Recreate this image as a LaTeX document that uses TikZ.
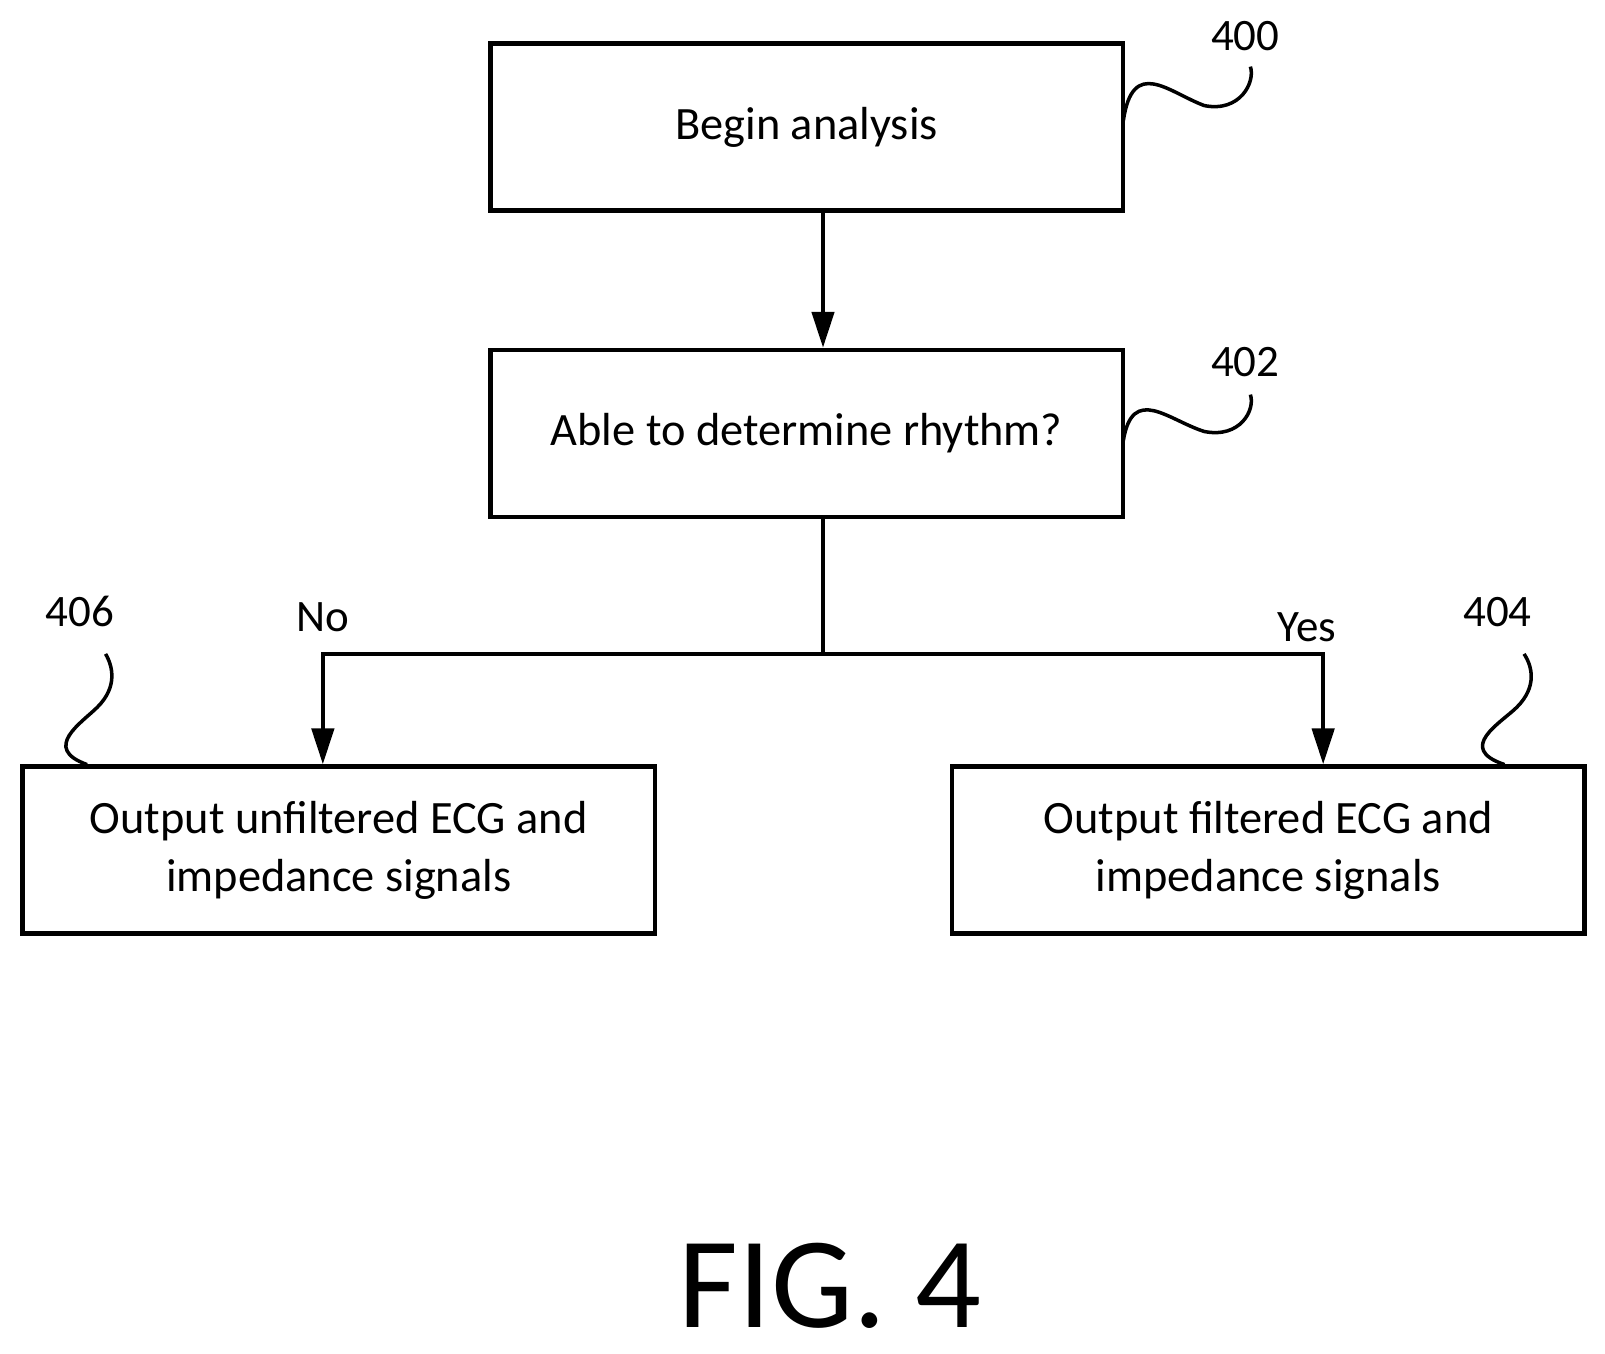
\documentclass[tikz,border=0pt]{standalone}
\usepackage{fontspec}
\setmainfont{Carlito}
\usetikzlibrary{arrows.meta,positioning}
\tikzset{
    stage/.style={draw, line width=1.3pt, minimum width=6.33cm, minimum height=1.67cm,
        align=center, font=\fontsize{13.2}{16.5}\selectfont},
    flow/.style={line width=1.3pt, -{Triangle[width=0.22cm,length=0.36cm]}},
    tag/.style={font=\fontsize{12.8}{15}\selectfont},
}
\begin{document}
\begin{tikzpicture}[x=0.01025cm, y=-0.01025cm]
    \useasboundingbox (0,0) rectangle (1566,1321);
    \node[stage] (begin) at (787,124) {Begin analysis};
    \node[stage] (able) at (787,423) {Able to determine rhythm?};
    \node[stage] (unfilt) at (330.5,829.5) {Output unfiltered ECG and\\impedance signals};
    \node[stage] (filt) at (1237.5,829.5) {Output filtered ECG and\\impedance signals};

    \coordinate (split) at (803,638);
    \draw[flow] (begin.south -| split) -- (able.north -| split);
    \draw[line width=1.3pt] (able.south -| split) -- (split);
    \draw[flow] (split) -| (unfilt.north -| 315,0);
    \draw[flow] (split) -| (filt.north -| 1291,0);

    \node[tag] (no) at (315,602) {No};
    \node[tag] (yes) at (1275,612) {Yes};

    % reference numerals
    \node[tag] (n400) at (1215,35) {400};
    \node[tag] (n402) at (1215,353) {402};
    \node[tag] (n406) at (78,597) {406};
    \node[tag] (n404) at (1461,597) {404};
    \draw[line width=1pt] (1096,118) .. controls (1105,55) and (1140,90) .. (1175,103)
        .. controls (1210,110) and (1225,80) .. (1220,65);
    \draw[line width=1pt] (1096,430) .. controls (1105,375) and (1140,410) .. (1175,421)
        .. controls (1210,428) and (1225,400) .. (1220,385);
    \draw[line width=1pt] (85,746) .. controls (40,730) and (80,705) .. (95,690)
        .. controls (115,670) and (110,650) .. (103,638);
    \draw[line width=1pt] (1468,746) .. controls (1420,730) and (1465,705) .. (1480,690)
        .. controls (1500,670) and (1495,650) .. (1487,638);

    \node[font=\fontsize{37}{37}\selectfont] (fig) at (810,1255) {FIG. 4};
\end{tikzpicture}
\end{document}
